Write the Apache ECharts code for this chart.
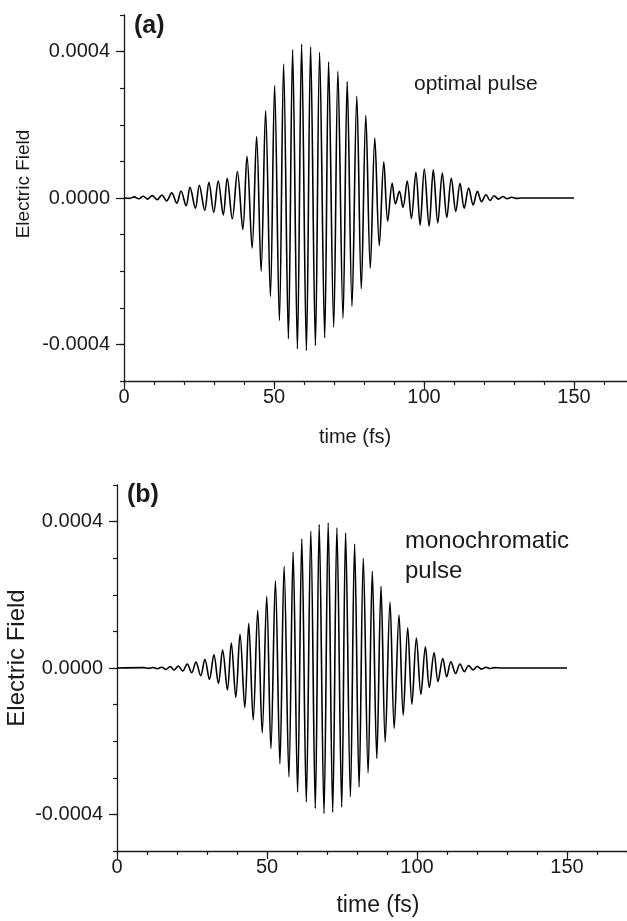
<!DOCTYPE html>
<html>
<head>
<meta charset="utf-8">
<script src="https://cdn.jsdelivr.net/npm/echarts@6/dist/echarts.min.js"></script>
<style>
html,body{margin:0;padding:0;background:#fff;}
#c{width:627px;height:921px;}
</style>
</head>
<body>
<div id="c"></div>
<script>
// ---- data (extrema of the field, fs / a.u.) ----
var timeA = [0,1.9,3.4,4.9,6.4,7.9,9.4,11.1,12.6,14.2,15.9,17.6,19.0,20.7,22.0,23.8,25.1,26.9,28.3,29.9,31.4,33.1,34.4,36.1,37.8,39.6,41.0,42.7,44.2,45.7,47.2,48.8,50.2,51.8,53.2,54.8,56.2,57.8,59.2,60.8,62.2,63.8,65.2,66.9,68.2,69.9,71.3,73.0,74.4,76.0,77.6,79.1,80.6,82.1,83.6,85.1,86.6,87.9,89.4,90.5,91.8,93.0,94.4,95.8,97.3,98.7,100.1,101.7,103.1,104.6,106.1,107.6,109.1,110.6,112.0,113.4,114.9,116.4,117.8,119.2,120.7,122.0,123.4,124.8,126.3,127.7,129.2,130.7,132.5,150];
var fieldA = [0,-0.000001,0.000003,-0.000002,0.0000046,-0.000003,0.0000064,-0.0000045,0.000008,-0.000008,0.000014,-0.000014,0.000019,-0.000021,0.000029,-0.000028,0.000035,-0.000034,0.000043,-0.000039,0.000046,-0.000046,0.000054,-0.000057,0.000072,-0.000086,0.000114,-0.000137,0.000168,-0.000200,0.000238,-0.000269,0.000307,-0.000335,0.000366,-0.000385,0.000405,-0.000412,0.000420,-0.000417,0.000413,-0.000403,0.000398,-0.000382,0.000372,-0.000353,0.000346,-0.000329,0.000318,-0.000296,0.000278,-0.000248,0.000225,-0.000192,0.000164,-0.000130,0.000099,-0.000063,0.000040,-0.000016,0.000018,-0.000026,0.000046,-0.000056,0.000070,-0.000074,0.000079,-0.000077,0.000077,-0.000068,0.000068,-0.000053,0.000054,-0.000037,0.000040,-0.000028,0.000027,-0.000019,0.000018,-0.000010,0.000009,-0.000007,0.000006,-0.000003,0.000004,-0.000002,0.000002,-0.000001,0,0];

var timeB = [0,9.0,10.5,12.0,13.4,14.9,16.3,17.7,19.1,20.4,21.9,23.4,24.9,26.3,27.9,29.3,30.8,32.3,33.8,35.2,36.8,38.1,39.6,41.0,42.6,43.9,45.4,46.9,48.4,49.9,51.3,52.8,54.3,55.7,57.3,58.7,60.2,61.6,63.1,64.6,66.1,67.4,69.0,70.4,71.9,73.3,74.9,76.2,77.8,79.2,80.7,82.1,83.7,85.1,86.6,88.0,89.4,91.0,92.4,94.0,95.4,96.9,98.3,99.8,101.3,102.8,104.1,105.7,107.0,108.6,109.9,111.3,112.9,114.3,115.8,117.2,118.7,120.1,121.6,123.0,124.5,126.0,128,150];
var fieldB = [0,0.000001,-0.000001,0.0000015,-0.000002,0.000002,-0.0000037,0.0000037,-0.0000055,0.0000055,-0.0000082,0.000011,-0.000013,0.000016,-0.000021,0.000024,-0.000031,0.000036,-0.000042,0.000049,-0.000060,0.000068,-0.000080,0.000092,-0.000108,0.000122,-0.000142,0.000157,-0.000177,0.000195,-0.000220,0.000238,-0.000261,0.000278,-0.000298,0.000317,-0.000339,0.000353,-0.000366,0.000374,-0.000384,0.000392,-0.000398,0.000396,-0.000394,0.000383,-0.000380,0.000369,-0.000352,0.000339,-0.000325,0.000300,-0.000287,0.000264,-0.000247,0.000223,-0.000202,0.000180,-0.000165,0.000145,-0.000129,0.000110,-0.000099,0.000082,-0.000072,0.000058,-0.000053,0.000042,-0.000037,0.000026,-0.000024,0.000017,-0.000015,0.000011,-0.000010,0.000007,-0.000005,0.000004,-0.000003,0.000002,-0.0000015,0.000001,0,0];

var xMajorTicks = [0, 50, 100, 150];
var yMajorTicks = [-0.0004, 0, 0.0004];
var xName = 'time (fs)';
var yName = 'Electric Field';

function pairs(t, v){ var out=[]; for (var i=0;i<t.length;i++) out.push([t[i], v[i]]); return out; }

var FONT = 'Liberation Sans, Arial, Helvetica, sans-serif';
var INK = '#1a1a1a';

function xAxes(gi, labelSize){
  return [
    { gridIndex: gi, type:'value', position:'bottom', min:0, max:170, interval:10,
      axisLine:{show:true, onZero:false, lineStyle:{color:INK, width:1.3}},
      axisTick:{show:true, inside:false, length:4, lineStyle:{color:INK, width:1.2}},
      axisLabel:{show:true, customValues:xMajorTicks, margin:6, color:INK, fontSize:labelSize, fontFamily:FONT},
      splitLine:{show:false} },
    { gridIndex: gi, type:'value', position:'bottom', min:0, max:170,
      axisLine:{show:false, onZero:false},
      axisTick:{show:true, inside:false, length:8, customValues:xMajorTicks, lineStyle:{color:INK, width:1.2}},
      axisLabel:{show:false}, splitLine:{show:false} }
  ];
}
function yAxes(gi, labelSize){
  return [
    { gridIndex: gi, type:'value', position:'left', min:-0.0005, max:0.0005, interval:0.0001,
      axisLine:{show:true, onZero:false, lineStyle:{color:INK, width:1.3}},
      axisTick:{show:true, inside:false, length:4, lineStyle:{color:INK, width:1.2}},
      axisLabel:{show:true, customValues:yMajorTicks, margin:14, color:INK, fontSize:labelSize, fontFamily:FONT,
        formatter:function(v){ return (Math.abs(v)<1e-12?0:v).toFixed(4); }},
      splitLine:{show:false} },
    { gridIndex: gi, type:'value', position:'left', min:-0.0005, max:0.0005,
      axisLine:{show:false, onZero:false},
      axisTick:{show:true, inside:false, length:8, customValues:yMajorTicks, lineStyle:{color:INK, width:1.2}},
      axisLabel:{show:false}, splitLine:{show:false} }
  ];
}

var chart = echarts.init(document.getElementById('c'), null, {renderer:'canvas'});
chart.setOption({
  animation:false,
  backgroundColor:'#ffffff',
  grid:[
    {left:124, top:15, width:510, height:366, containLabel:false, outerBoundsMode:'none'},
    {left:117, top:485, width:510, height:366, containLabel:false, outerBoundsMode:'none'}
  ],
  xAxis: xAxes(0, 20).concat(xAxes(1, 20)),
  yAxis: yAxes(0, 20).concat(yAxes(1, 20)),
  series:[
    { type:'line', xAxisIndex:0, yAxisIndex:0, data:pairs(timeA, fieldA), showSymbol:false, symbol:'none',
      smooth:0.34, lineStyle:{color:'#000', width:1.6} },
    { type:'line', xAxisIndex:2, yAxisIndex:2, data:pairs(timeB, fieldB), showSymbol:false, symbol:'none',
      smooth:0.34, lineStyle:{color:'#000', width:1.6} }
  ],
  graphic:[
    {type:'text', left:134, top:14, style:{text:'(a)', fill:INK, font:'bold 25px '+FONT}},
    {type:'text', left:414, top:74, style:{text:'optimal pulse', fill:INK, font:'21px '+FONT}},
    {type:'text', left:127, top:483, style:{text:'(b)', fill:INK, font:'bold 25px '+FONT}},
    {type:'text', left:405, top:526, style:{text:'monochromatic\npulse', fill:INK, font:'24px '+FONT, lineHeight:30}},
    {type:'text', x:24, y:184, rotation:Math.PI/2,
      style:{text:yName, fill:INK, font:'19px '+FONT, textAlign:'center', textVerticalAlign:'middle'}},
    {type:'text', x:355, y:437,
      style:{text:xName, fill:INK, font:'20px '+FONT, textAlign:'center', textVerticalAlign:'middle'}},
    {type:'text', x:17, y:658, rotation:Math.PI/2,
      style:{text:yName, fill:INK, font:'24px '+FONT, textAlign:'center', textVerticalAlign:'middle'}},
    {type:'text', x:378, y:906,
      style:{text:xName, fill:INK, font:'23px '+FONT, textAlign:'center', textVerticalAlign:'middle'}}
  ]
});
</script>
</body>
</html>
